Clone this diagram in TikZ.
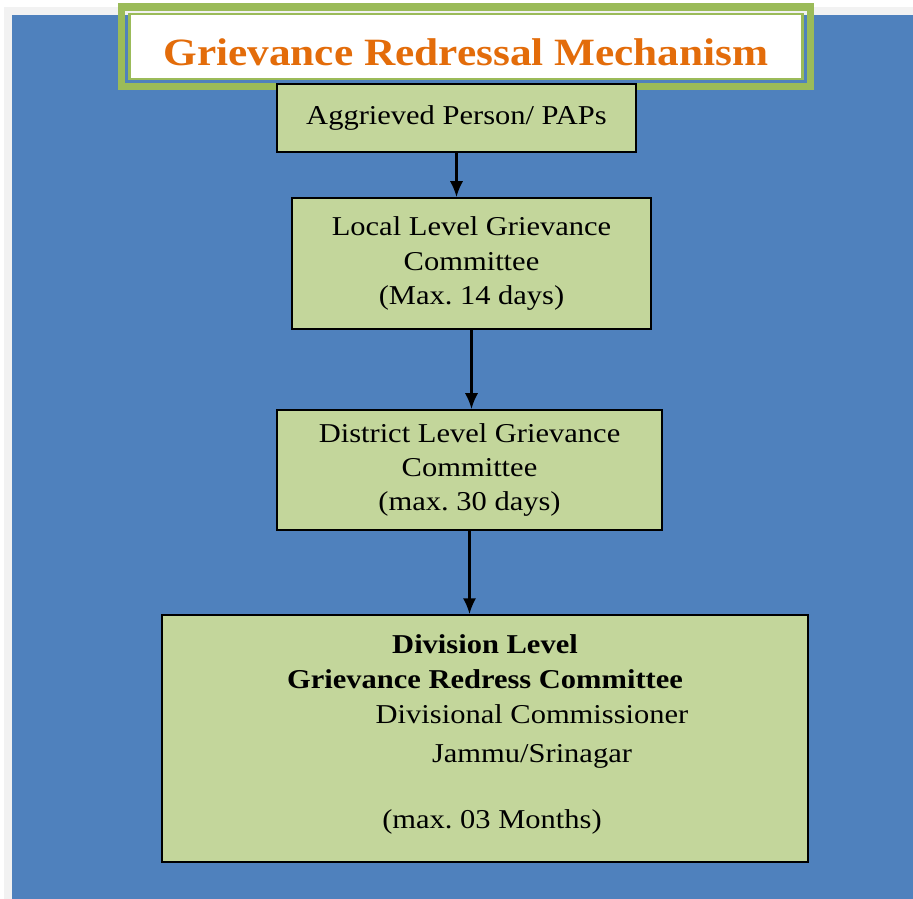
\documentclass[tikz,border=0pt]{standalone}
\usepackage{fontspec}
\setmainfont{Liberation Serif}[FakeStretch=1.12]
\usepackage{tikz}
\usetikzlibrary{arrows.meta}
\frenchspacing

\definecolor{pagegrey}{HTML}{F2F2F2}
\definecolor{bgblue}{HTML}{4F81BD}
\definecolor{titlegreen}{HTML}{9BBB59}
\definecolor{titleorange}{HTML}{E36C0A}
\definecolor{boxgreen}{HTML}{C3D69B}

\begin{document}
\begin{tikzpicture}[x=0.02cm,y=-0.02cm,>={Latex[length=9pt,width=7.5pt]}]
    \tikzstyle{stage}=[rectangle,draw=black,line width=1.1pt,fill=boxgreen,align=center,font=\fontsize{15.5}{19.6}\selectfont]
    \tikzstyle{flow}=[->,line width=1.2pt]
    \tikzstyle{boldline}=[anchor=base,font=\fontsize{15.5}{19.6}\selectfont\bfseries]
    \tikzstyle{plainline}=[anchor=base,font=\fontsize{15.5}{19.6}\selectfont]

    \useasboundingbox (0,0) rectangle (913,899);

    % Draw the page and the blue panel
    \fill[pagegrey] (4,7) rectangle (920,910);
    \fill[bgblue] (12,15) rectangle (920,910);

    % Draw the title box with its double green frame
    \node[rectangle, draw=titlegreen, line width=1.4pt, fill=white, outer sep=0pt,
          minimum width=13.46cm, minimum height=1.30cm] (title) at (466,46.5) {};
    \draw[titlegreen, line width=4pt] ([shift={(-8,-7)}]title.north west)
        rectangle ([shift={(8,7.5)}]title.south east);
    \node[text=titleorange, font=\fontsize{22}{26}\selectfont\bfseries] (titletext)
        at (466,52) {Grievance Redressal Mechanism};

    % Draw the stages of the mechanism
    \node[stage, minimum width=7.18cm, minimum height=1.36cm] (aggrieved) at (456.5,118) {Aggrieved Person/ PAPs};
    \node[stage, minimum width=7.18cm, minimum height=2.62cm] (local) at (471.5,263.5)
        {Local Level Grievance\\Committee\\(Max. 14 days)};
    \node[stage, minimum width=7.70cm, minimum height=2.40cm] (district) at (469.5,470)
        {District Level Grievance\\Committee\\(max. 30 days)};
    \node[stage, minimum width=12.92cm, minimum height=4.94cm] (division) at (485,738.5) {};

    % Text of the last stage
    \node[boldline] (divhead) at (485,653) {Division Level};
    \node[boldline] (divname) at (485,688) {Grievance Redress Committee};
    \node[plainline] (divcomm) at (532,723) {Divisional Commissioner};
    \node[plainline] (divcity) at (532,762) {Jammu/Srinagar};
    \node[plainline] (divtime) at (492,828) {(max. 03 Months)};

    % Connect the stages
    \draw[flow] (aggrieved.south) -- (aggrieved.south |- local.north);
    \draw[flow] (local.south) -- (local.south |- district.north);
    \draw[flow] (district.south) -- (district.south |- division.north);

\end{tikzpicture}
\end{document}
